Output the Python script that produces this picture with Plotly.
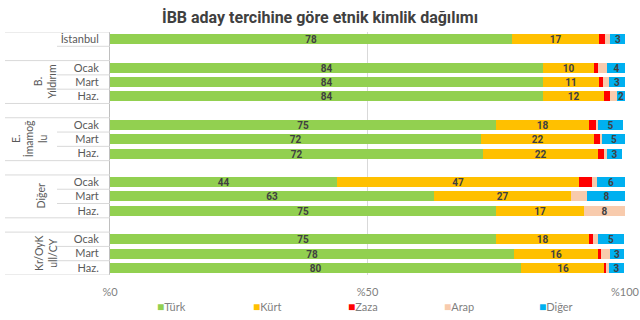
import plotly.graph_objects as go

# ---------------- data ----------------
title = "İBB aday tercihine göre etnik kimlik dağılımı"
groups = ["", "B.<br>Yıldırım", "E.<br>İmamoğ<br>lu", "Diğer", "Kr/OyK<br>ull/CY"]
group_periods = [["İstanbul"], ["Ocak", "Mart", "Haz."], ["Ocak", "Mart", "Haz."],
                 ["Ocak", "Mart", "Haz."], ["Ocak", "Mart", "Haz."]]

series_names = ["Türk", "Kürt", "Zaza", "Arap", "Diğer"]
turk = [78, 84, 84, 84, 75, 72, 72.4, 44, 63, 75, 75, 78.4, 79.8]
kurt = [17, 10, 11, 12, 18, 22, 22.4, 47, 26.6, 17, 18, 16.3, 16.3]
zaza = [1.1, 0.7, 0.8, 1.0, 1.3, 1.2, 1.2, 2.6, 0, 0, 0.7, 0.7, 0.3]
arap = [1.0, 1.8, 1.0, 1.4, 0.5, 0.3, 0.5, 0.9, 3.1, 8, 1.1, 1.7, 0.4]
diger = [3.0, 3.6, 3.2, 1.6, 4.9, 4.6, 3.0, 5.5, 7.5, 0, 5.0, 2.8, 3.0]
series_values = [turk, kurt, zaza, arap, diger]
colors = ["#92D050", "#FFC000", "#FF0000", "#F8CBAD", "#00B0F0"]
label_min = [2, 2, 1000, 5, 1.5]   # values below this are not labelled

x_tickvals = [0, 50, 100]
x_ticktext = ["%0", "%50", "%100"]

# ---------------- layout of rows ----------------
row_pos, row_text = [], []
group_spans = []
pos = 0
for gi, periods in enumerate(group_periods):
    if gi > 0:
        pos += 1  # blank spacer row
    start = pos
    for p in periods:
        row_pos.append(pos)
        row_text.append(p)
        pos += 1
    group_spans.append((start, pos - 1))
n_rows = pos

W, H = 640, 320
ML, MR, MT, MB = 110, 15, 32, 45
pw = W - ML - MR
ph = H - MT - MB

def px_to_paper_x(px):
    return (px - ML) / pw

def px_to_paper_y(py):
    return 1 - (py - MT) / ph

LABEL_FONT = "Lato, sans-serif"
NUM_FONT = "Roboto, sans-serif"

fig = go.Figure()
for name, vals, col, thr in zip(series_names, series_values, colors, label_min):
    txt = [str(round(v)) if v >= thr else "" for v in vals]
    fig.add_trace(go.Bar(
        x=vals, y=row_pos, orientation="h", name=name,
        marker=dict(color=col, line=dict(width=0)),
        width=0.7, text=txt, textposition="inside", constraintext="none",
        insidetextanchor="middle", textangle=0,
        textfont=dict(family=NUM_FONT, size=10, color="#404040", weight="bold"),
        hoverinfo="x+name", showlegend=False,
    ))

shapes = []
line_col = "#D9D9D9"
full_x0 = px_to_paper_x(5)
sub_x0 = px_to_paper_x(57)
for gi, (s, e) in enumerate(group_spans):
    top_x0 = full_x0
    bot_x0 = full_x0 if groups[gi] else sub_x0
    shapes.append(dict(type="line", xref="paper", yref="y", x0=top_x0, x1=0,
                       y0=s - 0.5, y1=s - 0.5, line=dict(color=line_col, width=1)))
    shapes.append(dict(type="line", xref="paper", yref="y", x0=bot_x0, x1=0,
                       y0=e + 0.5, y1=e + 0.5, line=dict(color=line_col, width=1)))
    for r in range(s, e):
        shapes.append(dict(type="line", xref="paper", yref="y", x0=sub_x0, x1=0,
                           y0=r + 0.5, y1=r + 0.5, line=dict(color=line_col, width=1)))

# x position (px) of rotated group labels, by number of text lines
group_label_px = {1: 41, 2: 45.5, 3: 29}
annotations = []
for gi, (s, e) in enumerate(group_spans):
    if groups[gi]:
        n_lines = groups[gi].count("<br>") + 1
        annotations.append(dict(
            text=groups[gi], xref="paper", yref="y",
            x=px_to_paper_x(group_label_px[n_lines]), y=(s + e) / 2,
            xanchor="center", yanchor="middle",
            textangle=-90, showarrow=False, align="center",
            font=dict(family=LABEL_FONT, size=10.5, color="#595959")))

# legend drawn as a row of coloured squares + names
leg_x0, leg_step, leg_y = 156, 95.5, 306
for i, (name, col) in enumerate(zip(series_names, colors)):
    annotations.append(dict(
        text=f'<span style="color:{col};font-size:12px">■</span>{name}',
        xref="paper", yref="paper",
        x=px_to_paper_x(leg_x0 + i * leg_step - 1), y=px_to_paper_y(leg_y),
        xanchor="left", yanchor="middle", showarrow=False,
        font=dict(family=LABEL_FONT, size=11, color="#7F7F7F")))

fig.update_layout(
    width=W, height=H,
    margin=dict(l=ML, r=MR, t=MT, b=MB, autoexpand=False),
    paper_bgcolor="white", plot_bgcolor="white",
    barmode="stack", bargap=0,
    title=dict(text="<b>" + title + "</b>", x=0.5, xanchor="center",
               y=1 - 17 / H, yanchor="middle",
               font=dict(family="Roboto, sans-serif", size=16, color="#404040")),
    xaxis=dict(range=[0, 100], tickvals=x_tickvals, ticktext=x_ticktext,
               showgrid=True, gridcolor="#D9D9D9", gridwidth=1, zeroline=False,
               ticks="", ticklabelstandoff=9,
               tickfont=dict(family=LABEL_FONT, size=11, color="#7F7F7F"),
               fixedrange=True),
    yaxis=dict(range=[n_rows - 0.5, -0.5], tickvals=row_pos, ticktext=row_text,
               showgrid=False, zeroline=False, showline=True, linecolor="#BFBFBF",
               ticks="", ticklabelstandoff=8,
               tickfont=dict(family=LABEL_FONT, size=11, color="#595959"),
               fixedrange=True),
    shapes=shapes, annotations=annotations,
    showlegend=False,
)

fig.write_html("out.html")
